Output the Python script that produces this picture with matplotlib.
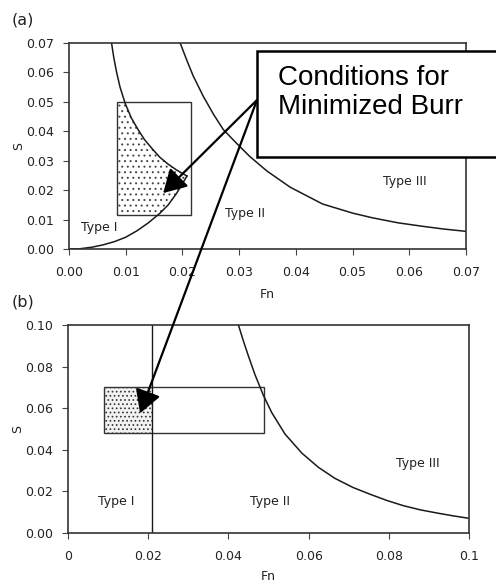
import numpy as np
import matplotlib
matplotlib.use("Agg")
import matplotlib.pyplot as plt
from matplotlib.patches import Rectangle

# ---- data ----
# panel (a): Type I / Type II boundary, upper (falling) branch
fn_a_upper = [0.0075, 0.0079, 0.0084, 0.0090, 0.0099, 0.0110, 0.0122, 0.0133, 0.0147, 0.0160, 0.0175, 0.0190, 0.0208]
s_a_upper = [0.0700, 0.0650, 0.0600, 0.0550, 0.0495, 0.0445, 0.0405, 0.0372, 0.0340, 0.0312, 0.0288, 0.0268, 0.0248]
# panel (a): Type I / Type II boundary, lower (rising) branch
fn_a_lower = [0.0, 0.002, 0.004, 0.006, 0.008, 0.010, 0.012, 0.014, 0.016, 0.0175, 0.019, 0.0208]
s_a_lower = [0.0, 0.0001, 0.0006, 0.0014, 0.0025, 0.0040, 0.0062, 0.0089, 0.0121, 0.0150, 0.0190, 0.0248]
# panel (a): Type II / Type III boundary
fn_a_23 = [0.0196, 0.0208, 0.0219, 0.0237, 0.0255, 0.0272, 0.0296, 0.0319, 0.0349, 0.0390,
           0.0447, 0.0500, 0.0535, 0.0580, 0.0624, 0.0660, 0.0700]
s_a_23 = [0.0700, 0.0640, 0.0588, 0.0518, 0.0457, 0.0406, 0.0358, 0.0314, 0.0265, 0.0210,
          0.0153, 0.0122, 0.0106, 0.0089, 0.0077, 0.0068, 0.0060]
# panel (a): window of conditions (Fn min, Fn max, S min, S max)
win_a = [0.0085, 0.0215, 0.0116, 0.0500]

# panel (b): Type I / Type II boundary (vertical line)
fn_b_12 = 0.0209
# panel (b): Type II / Type III boundary
fn_b_23 = [0.0425, 0.0437, 0.0450, 0.0466, 0.0487, 0.0508, 0.0541, 0.0583, 0.0624, 0.0665,
           0.0710, 0.0753, 0.0795, 0.0836, 0.0878, 0.0919, 0.0960, 0.1000]
s_b_23 = [0.1000, 0.0925, 0.0850, 0.0762, 0.0662, 0.0578, 0.0475, 0.0383, 0.0315, 0.0262,
          0.0218, 0.0185, 0.0155, 0.0130, 0.0110, 0.0095, 0.0081, 0.0069]
win_b = [0.0091, 0.0489, 0.0479, 0.0700]

xticks_a = [0.00, 0.01, 0.02, 0.03, 0.04, 0.05, 0.06, 0.07]
yticks_a = [0.00, 0.01, 0.02, 0.03, 0.04, 0.05, 0.06, 0.07]
xticks_b = [0, 0.02, 0.04, 0.06, 0.08, 0.1]
xticklabels_b = ["0", "0.02", "0.04", "0.06", "0.08", "0.1"]
yticks_b = [0.00, 0.02, 0.04, 0.06, 0.08, 0.10]

# arrow tips (data coords)
tip_a = (0.0166, 0.0190)
tip_b = (0.0180, 0.0575)

W, H = 496, 586
plt.rcParams['font.family'] = ['DejaVu Sans']
plt.rcParams['hatch.linewidth'] = 0.7
fig = plt.figure(figsize=(W / 100, H / 100), dpi=100)
fig.patch.set_facecolor('white')

ax_a = fig.add_axes([69 / W, 1 - 249 / H, 397 / W, 206 / H])
ax_b = fig.add_axes([67.8 / W, 1 - 532.7 / H, 401.5 / W, 207.7 / H])

line_col = '#1a1a1a'
text_col = '#222222'


def style(ax):
    for sp in ax.spines.values():
        sp.set_color('#333333')
        sp.set_linewidth(1.2)
    ax.tick_params(direction='out', length=4, width=0.8, color='#444444',
                   labelsize=9, labelcolor=text_col)
    ax.tick_params(axis='x', pad=8.5)
    ax.tick_params(axis='y', pad=6.5)


# ---- panel (a) ----
ax_a.plot(fn_a_upper, s_a_upper, color=line_col, lw=1.1)
ax_a.plot(fn_a_lower, s_a_lower, color=line_col, lw=1.1)
ax_a.plot(fn_a_23, s_a_23, color=line_col, lw=1.1)

ys = np.linspace(win_a[2], win_a[3], 200)
x_low = np.interp(ys, s_a_lower, fn_a_lower)
x_up = np.interp(ys, s_a_upper[::-1], fn_a_upper[::-1])
x_right = np.where(ys < s_a_lower[-1], x_low, x_up)
ax_a.fill_betweenx(ys, win_a[0], x_right, facecolor='white', edgecolor='#444444',
                   hatch='...', linewidth=0)
ax_a.add_patch(Rectangle((win_a[0], win_a[2]), win_a[1] - win_a[0], win_a[3] - win_a[2],
                         fill=False, edgecolor='#333333', lw=1.0))

ax_a.set_xlim(0, 0.07)
ax_a.set_ylim(0, 0.07)
ax_a.set_xticks(xticks_a)
ax_a.set_yticks(yticks_a)
ax_a.set_xticklabels([f"{v:.2f}" for v in xticks_a])
ax_a.set_yticklabels([f"{v:.2f}" for v in yticks_a])
style(ax_a)
ax_a.set_xlabel("Fn", fontsize=9, color=text_col)
ax_a.set_ylabel("S", fontsize=9, color=text_col)
ax_a.xaxis.set_label_coords(0.5, -0.223)
ax_a.yaxis.set_label_coords(-0.128, 0.5)
ax_a.xaxis.label.set_va('center')
ax_a.yaxis.label.set_va('center')

ax_a.text(0.0053, 0.0073, "Type I", fontsize=9, color=text_col, ha='center', va='center')
ax_a.text(0.031, 0.0122, "Type II", fontsize=9, color=text_col, ha='center', va='center')
ax_a.text(0.0592, 0.0231, "Type III", fontsize=9, color=text_col, ha='center', va='center')

# ---- panel (b) ----
ax_b.axvline(fn_b_12, color=line_col, lw=1.0)
ax_b.plot(fn_b_23, s_b_23, color=line_col, lw=1.1)
ax_b.fill_between([win_b[0], fn_b_12], win_b[2], win_b[3], facecolor='#f2f2f2',
                  edgecolor='#333333', hatch='....', linewidth=0)
ax_b.add_patch(Rectangle((win_b[0], win_b[2]), win_b[1] - win_b[0], win_b[3] - win_b[2],
                         fill=False, edgecolor='#333333', lw=1.0))

ax_b.set_xlim(0, 0.1)
ax_b.set_ylim(0, 0.1)
ax_b.set_xticks(xticks_b)
ax_b.set_xticklabels(xticklabels_b)
ax_b.set_yticks(yticks_b)
ax_b.set_yticklabels([f"{v:.2f}" for v in yticks_b])
style(ax_b)
ax_b.set_xlabel("Fn", fontsize=9, color=text_col)
ax_b.set_ylabel("S", fontsize=9, color=text_col)
ax_b.xaxis.set_label_coords(0.5, -0.213)
ax_b.yaxis.set_label_coords(-0.124, 0.5)
ax_b.xaxis.label.set_va('center')
ax_b.yaxis.label.set_va('center')

ax_b.text(0.012, 0.0152, "Type I", fontsize=9, color=text_col, ha='center', va='center')
ax_b.text(0.0503, 0.0152, "Type II", fontsize=9, color=text_col, ha='center', va='center')
ax_b.text(0.0873, 0.0333, "Type III", fontsize=9, color=text_col, ha='center', va='center')

# panel letters
fig.text(12 / W, 1 - 20 / H, "(a)", fontsize=11.5, color=text_col, va='center')
fig.text(12 / W, 1 - 302 / H, "(b)", fontsize=11.5, color=text_col, va='center')

# ---- callout box and arrows ----
start = (257 / W, 1 - 100 / H)
arrow_kw = dict(arrowstyle='-|>,head_length=0.7,head_width=0.4', color='black',
                lw=1.6, shrinkA=0, shrinkB=0, mutation_scale=20)
ax_a.annotate("", xy=tip_a, xycoords='data', xytext=start, textcoords='figure fraction',
              arrowprops=arrow_kw, annotation_clip=False)
ax_b.annotate("", xy=tip_b, xycoords='data', xytext=start, textcoords='figure fraction',
              arrowprops=arrow_kw, annotation_clip=False)

box = Rectangle((257 / W, 1 - 157 / H), 260 / W, 106 / H, transform=fig.transFigure,
                facecolor='white', edgecolor='black', lw=1.8, zorder=5, clip_on=False)
fig.patches.append(box)
fig.text(278 / W, 1 - 65 / H, "Conditions for\nMinimized Burr", fontsize=20,
         family=['Liberation Sans', 'DejaVu Sans'], color='black', va='top', ha='left',
         linespacing=1.15, zorder=6)

fig.savefig("out.png", dpi=100)
